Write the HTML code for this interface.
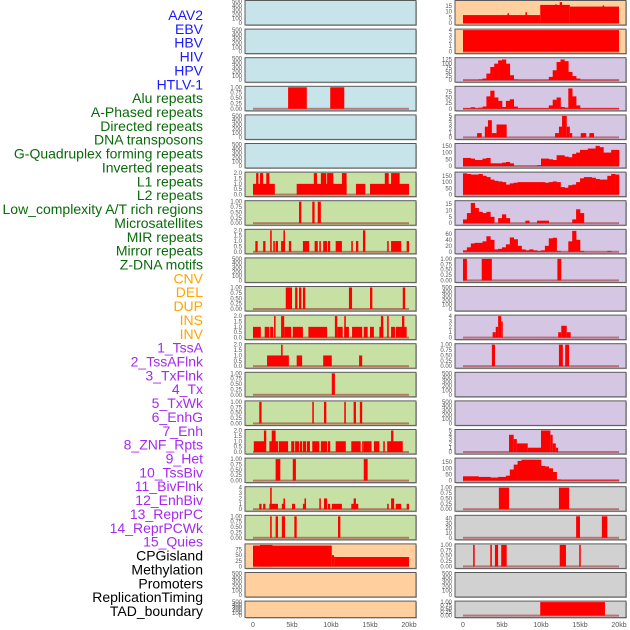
<!DOCTYPE html>
<html><head><meta charset="utf-8"><style>
body{margin:0;background:#fff;width:630px;height:630px;overflow:hidden}
svg{display:block;font-family:"Liberation Sans",sans-serif}
</style></head><body>
<svg id="chart" width="630" height="630" viewBox="0 0 630 630"></svg>
<script>
// ---------- data ----------
const labelsBlue=["AAV2","EBV","HBV","HIV","HPV","HTLV-1"];
const labelsGreen=["Alu repeats","A-Phased repeats","Directed repeats","DNA transposons","G-Quadruplex forming repeats","Inverted repeats","L1 repeats","L2 repeats","Low_complexity A/T rich regions","Microsatellites","MIR repeats","Mirror repeats","Z-DNA motifs"];
const labelsOrange=["CNV","DEL","DUP","INS","INV"];
const labelsPurple=["1_TssA","2_TssAFlnk","3_TxFlnk","4_Tx","5_TxWk","6_EnhG","7_Enh","8_ZNF_Rpts","9_Het","10_TssBiv","11_BivFlnk","12_EnhBiv","13_ReprPC","14_ReprPCWk","15_Quies"];
const labelsBlack=["CPGisland","Methylation","Promoters","ReplicationTiming","TAD_boundary"];
const xTickLabels=["0","5kb","10kb","15kb","20kb"];
const xTickValues=[0,5,10,15,20];

const T500=[0,100,200,300,400,500],T1=[0,0.25,0.5,0.75,1],T2=[0,0.5,1,1.5,2],T4=[0,1,2,3,4];

// left column segments [startKb,endKb,value]
const L3=[[4.5,6.9,1],[9.9,11.7,1]];
const L6=[[0,2.8,1],[0.4,0.7,2],[0.9,1.3,2],[1.7,2.1,2],[5.6,12,1],[7.8,8.2,2],[8.7,9.4,2],[9.5,10.3,2],[11.4,12,2],[13.2,14.4,1],[15,20,1],[16.9,17.4,2],[17.7,18.8,2]];
const L7=[[5.9,6.2,1],[7.6,7.9,1],[8.3,8.7,1]];
const L8=[[0.3,0.6,1],[1.3,1.6,1],[2.2,2.4,2],[2.6,2.8,1],[2.9,3.2,1],[3.6,4.1,1],[3.9,4.1,2],[4.6,4.9,1],[6.4,7.2,1],[7.9,8.3,1],[8.5,8.7,1],[9,9.5,1],[9.6,9.9,1],[10.6,11.4,1],[12.6,12.8,1],[13.2,13.5,1],[14.1,14.4,2],[17.2,17.4,1],[17.7,19,1],[19.7,20,1]];
const L10=[[4.2,5,1],[5.4,5.7,1],[5.9,6.2,1],[6.4,6.7,1],[12.3,12.7,1],[15,15.3,1],[19.2,19.5,1]];
const L11=[[0,1,1],[1.5,2.1,1],[2.2,2.6,1],[2.7,2.9,2],[3.6,4,2],[4,4.9,1],[5.1,6.4,1],[7.1,9.5,1],[10.5,10.8,2],[10.8,11.5,1],[11.7,12.3,1],[11.7,11.9,2],[12.7,14,1],[14.2,14.7,1],[15,15.5,1],[16.2,16.7,1],[16.4,16.7,2],[17.2,17.4,2],[17.7,18.2,1],[18.3,19.1,1],[19.1,19.4,2],[19.2,19.7,1]];
const L12=[[1.8,4.6,1],[3.6,3.8,2],[5.6,6.3,1],[9,10.1,1],[13.6,14,1]];
const L13=[[10.1,10.5,1]];
const L14=[[0.8,1.1,1],[7.6,7.8,1],[9.1,9.4,1],[11.7,11.9,1],[12.9,13.2,1],[13.7,14,1]];
const L15=[[0.1,1.5,1],[1.4,1.7,2],[2.1,3.2,1],[2.4,2.9,2],[3.3,4.5,1],[4.9,5.3,1],[5.4,5.9,1],[6,6.3,1],[6.4,6.8,1],[6.9,7.3,1],[7.6,8.5,1],[8.7,9.5,1],[9.6,9.9,1],[10.6,11.9,1],[12.6,13.8,1],[14,14.2,1],[14.2,15.2,1],[15.5,16.2,1],[16.7,16.9,1],[17.2,19.2,1],[17.7,18,2]];
const L16=[[2.9,3.5,1],[5.1,5.5,1],[14.2,14.7,1]];
const L17=[[0.8,1.1,1],[1.3,1.6,1],[2.1,3.2,1],[2.2,2.4,4],[3.7,4.1,1],[3.9,4.1,2],[5,5.4,1],[6.4,6.8,1],[6.6,6.8,2],[8.5,8.7,2],[9.1,9.5,2],[9.6,9.9,1],[10.1,11.4,1],[12.6,13.5,1],[12.9,13.2,2],[17.2,17.4,1],[17.7,18.1,2],[18.3,19,1],[19.7,20,1]];
const L18=[[2.2,2.4,1],[2.9,3.2,1],[3.7,4.1,1],[5.3,5.6,1],[10.9,11.2,1]];
const L19=[[0,10.1,93],[0.9,2.5,96],[10.1,10.4,50],[10.4,20,42]];

// right column: segments and 0.5kb bins
const R0=[[0,9.9,7],[9.9,13.7,16],[13.7,20,14.5],[12.4,12.7,18.5],[5.7,5.9,8.5],[8,8.2,9.5],[11.8,12,16.5],[17.9,18.1,15.5]];
const R1=[[0,20,4]];
const R2=[3,3,3,3,5,10,40,80,100,120,125,100,30,5,3,3,3,3,3,3,3,3,20,60,110,125,115,50,25,10,3,3,3,3,3,3,3,3,3,3];
const R3=[3,3,7,3,5,10,55,80,50,35,8,35,42,10,3,3,3,3,3,3,3,3,15,40,50,8,5,90,55,15,3,3,3,3,3,3,3,3,3,3];
const R4=[[1.8,2.4,1],[2.8,3.2,2.5],[3.2,3.7,4],[3.7,4.3,1],[4.3,5.6,3],[11.8,12.3,1],[12.3,12.7,2.5],[12.7,13.3,5],[13.3,13.7,2.5],[13.7,14,1],[15.1,15.8,1],[16.2,16.8,1]];
const R5=[60,60,55,45,45,55,60,20,20,20,25,30,20,0,0,0,0,0,0,5,55,55,50,45,80,80,70,65,90,100,120,120,130,130,150,140,100,100,120,120];
const R6=[170,165,160,160,165,150,140,120,110,105,100,80,90,95,100,100,100,100,100,100,100,95,100,105,100,60,55,75,80,100,130,140,140,135,125,120,120,150,165,160];
const R7=[3,8,16,12,9,8,9,5,0,4,7,4,0,0,0,0,2,0,0,2,2,2,0,0,0,0,0,0,3,11,8,0,0,0,0,0,0,0,0,0];
const R8=[5,15,28,30,30,35,52,40,8,10,15,25,48,42,20,8,5,8,5,3,5,20,45,47,3,0,0,35,70,40,3,0,0,0,0,0,0,3,0,0];
const R9=[[0,0.5,1],[2.4,3.7,1],[12.1,12.6,1]];
const R11=[[3.8,4.2,1],[4.2,4.5,2],[4.5,4.9,4],[4.9,5.1,3],[12.2,12.6,1],[12.6,13.3,2.2],[13.3,13.8,1]];
const R12=[[3.7,4.1,1],[12.3,12.8,1],[13.1,13.6,1]];
const R15=[[5.9,6.5,4],[6.5,6.9,3],[6.9,8.3,2],[8.3,10,1],[10,11.2,5],[11.2,11.5,4],[11.5,11.9,2],[11.9,12.2,1]];
const R16=[35,35,35,35,30,30,30,25,25,30,30,40,90,130,160,170,170,170,170,170,120,115,100,70,10,8,8,8,8,8,8,8,8,8,8,8,8,8,8,8];
const R17=[[4.6,5.9,1],[12.3,13.6,1]];
const R18=[[14.5,15,45],[17.8,18.5,45]];
const R19=[[1.3,1.5,1],[3.5,3.7,1],[4.1,4.5,1],[4.9,5.6,1],[12.4,13.2,1],[14.9,15.1,1]];
const R21=[[9.9,18.2,1]];

// ---------- layout ----------
const BG={blue:"#c8e4eb",green:"#c7e1a5",orange:"#ffd09e",purple:"#d5c6e3",grey:"#d1d1d1"};
const leftPanels=[
 ["blue",T500,500,null],["blue",T500,500,null],["blue",T500,500,null],["blue",T1,1,L3],["blue",T500,500,null],["blue",T500,500,null],
 ["green",T2,2,L6],["green",T1,1,L7],["green",T2,2,L8],["green",T500,500,null],["green",T1,1,L10],["green",T2,2,L11],["green",T2,2,L12],
 ["green",T1,1,L13],["green",T1,1,L14],["green",T2,2,L15],["green",T1,1,L16],["green",T4,4,L17],["green",T1,1,L18],
 ["orange",[0,25,50,75],96,L19],["orange",T500,500,null],["orange",T500,500,null]];
const rightPanels=[
 ["orange",[0,5,10,15],19,R0],["orange",T4,4,R1],["purple",[0,25,50,75,100,125],130,R2],["purple",[0,25,50,75],95,R3],
 ["purple",[0,1,2,3,4,5],5,R4],["purple",[0,50,100,150],160,R5],["purple",[0,50,100,150],172,R6],["purple",[0,5,10,15],17,R7],
 ["purple",[0,20,40,60],72,R8],["purple",T1,1,R9],["purple",T500,500,null],["purple",T4,4,R11],["purple",T1,1,R12],
 ["purple",T500,500,null],["purple",T500,500,null],["purple",[0,1,2,3,4,5],5,R15],["purple",[0,50,100,150],175,R16],
 ["grey",T1,1,R17],["grey",[0,10,20,30,40],45,R18],["grey",T1,1,R19],["grey",T500,500,null],["grey",T1,1,R21]];

const svg=document.getElementById('chart');
const NS="http://www.w3.org/2000/svg";
function mk(tag,attrs,parent){const e=document.createElementNS(NS,tag);for(const k in attrs)e.setAttribute(k,attrs[k]);(parent||svg).appendChild(e);return e;}

// row labels
const groups=[[labelsBlue,"#1a1aff"],[labelsGreen,"#0a6a0a"],[labelsOrange,"#ffa500"],[labelsPurple,"#a52af0"],[labelsBlack,"#000"]];
let li=0;
groups.forEach(([arr,col])=>arr.forEach(t=>{
 const y=15+li*13.86;
 const e=mk('text',{x:203,y:y+5,'text-anchor':'end','font-size':'14',fill:col});
 e.textContent=t;
 
 
 li++;
}));

function drawColumn(panels,boxX,dataX0,colName){
 const pxPerKb=7.8;
 const xs=kb=>dataX0+kb*pxPerKb;
 panels.forEach((p,i)=>{
  const [bg,ticks,ymax,data]=p;
  const top=i*28.6+0.5;
  const h=(i===21)?16.5:24.5;
  const g=mk('g',{});
  
  
  mk('rect',{x:boxX+1,y:top+1,width:171,height:h,fill:'#bbb'},g);
  mk('rect',{x:boxX,y:top,width:171,height:h,fill:BG[bg],stroke:'#5a5a5a','stroke-width':1},g);
  const ys=v=>top+h-2-v/ymax*(h-3);
  ticks.forEach(t=>{
   const tx=mk('text',{x:boxX-3,y:ys(t)+2,'text-anchor':'end','font-size':'6',fill:'#555'},g);
   tx.textContent=(ticks===T1)?t.toFixed(2):(ticks===T2?t.toFixed(1):String(t));
   
   
  });
  if(!data)return;
  mk('rect',{x:xs(0),y:ys(0)-1,width:xs(20)-xs(0),height:2,fill:'rgba(160,40,40,0.55)'},g);
  if(typeof data[0]==='number'){
   data.forEach((v,j)=>{
    if(v<=0)return;
    const r=mk('rect',{x:xs(j*0.5),y:ys(v),width:xs((j+1)*0.5)-xs(j*0.5)+0.3,height:ys(0)-ys(v),fill:'#ff0000'},g);
    
    
   });
  } else {
   data.forEach(s=>{
    const r=mk('rect',{x:xs(s[0]),y:ys(s[2]),width:Math.max(1.2,xs(s[1])-xs(s[0])),height:ys(0)-ys(s[2]),fill:'#ff0000'},g);
    
    
   });
  }
 });
 xTickValues.forEach((v,k)=>{
  const t=mk('text',{x:xs(v),y:627,'text-anchor':'middle','font-size':'7',fill:'#555'});
  t.textContent=xTickLabels[k];
  
  
 });
}
drawColumn(leftPanels,245,253,'left');
drawColumn(rightPanels,455,463,'right');
</script>
</body></html>
